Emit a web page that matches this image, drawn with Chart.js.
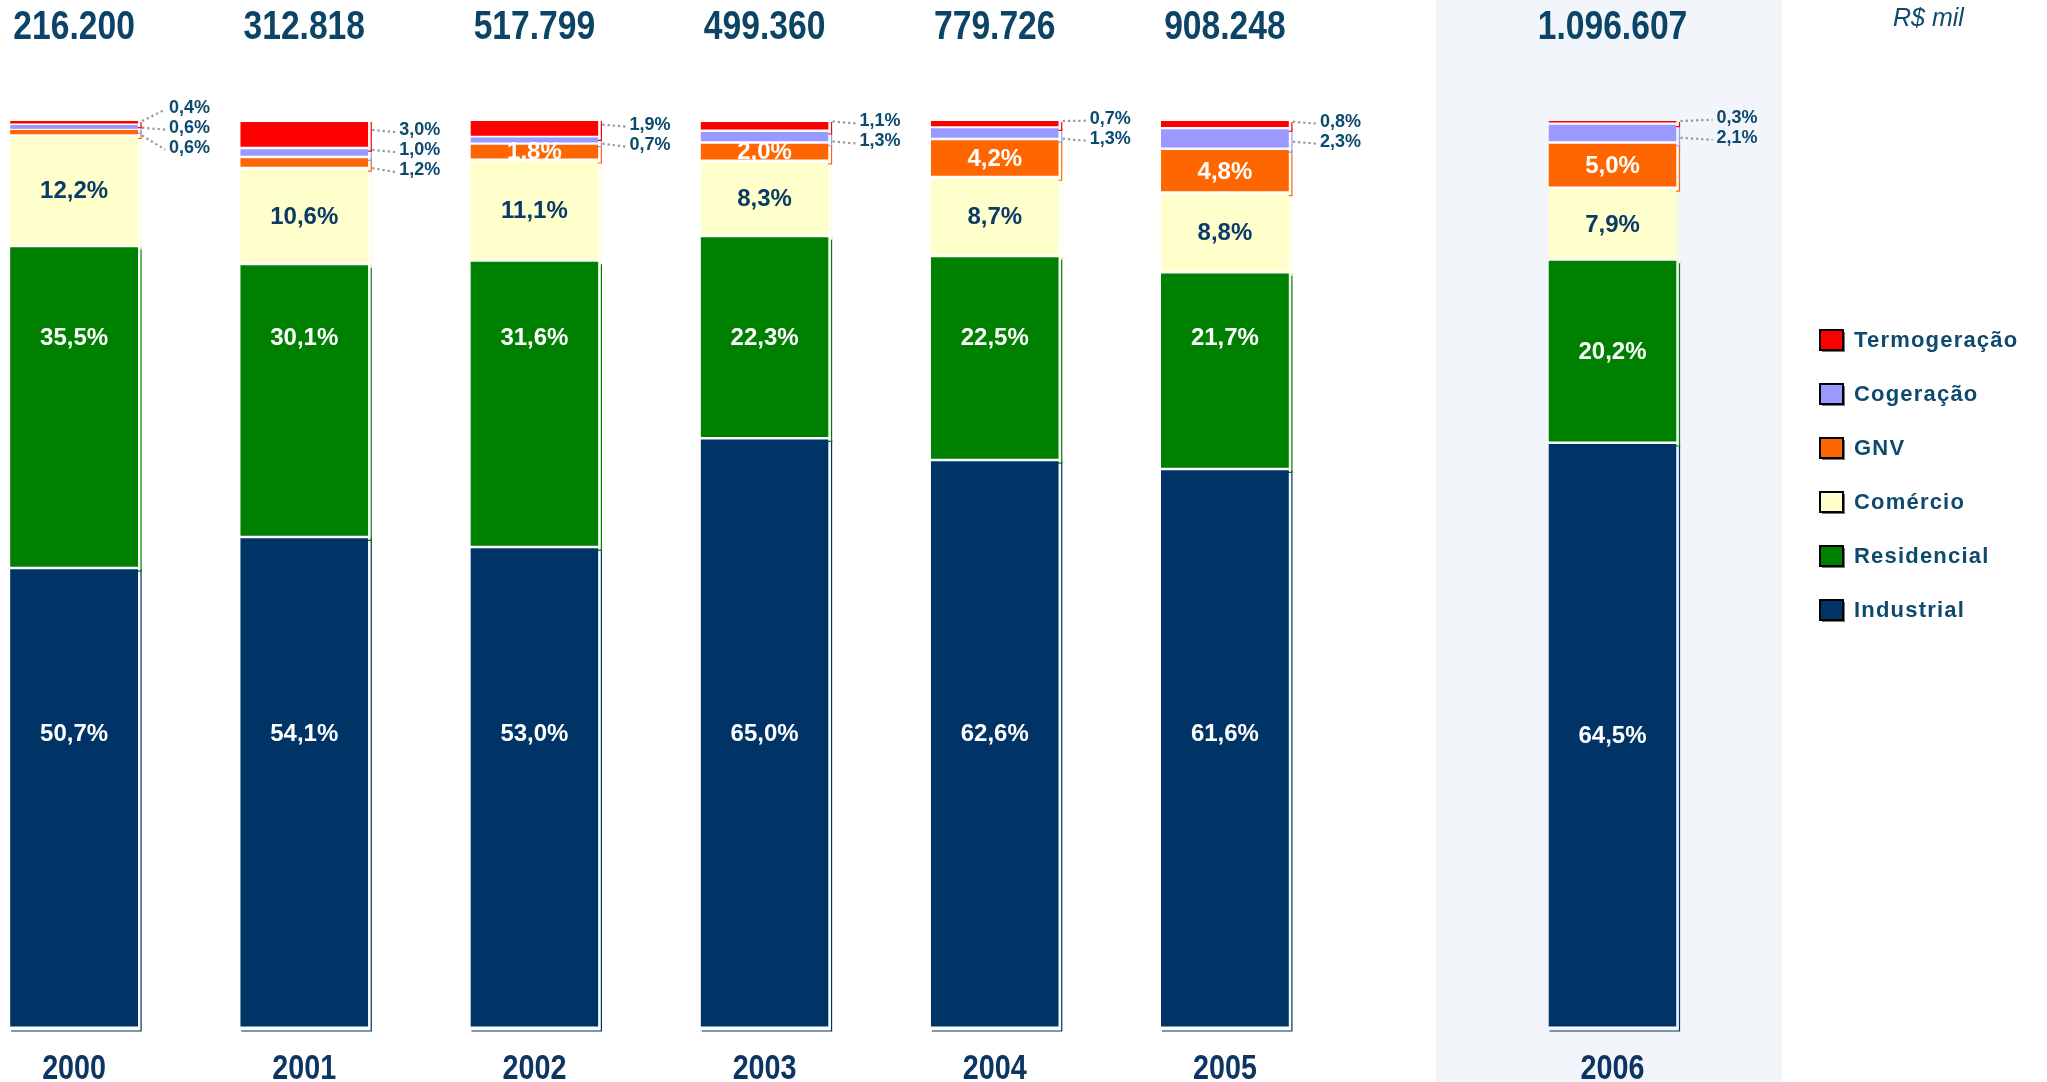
<!DOCTYPE html>
<html><head><meta charset="utf-8">
<script src="https://cdn.jsdelivr.net/npm/chart.js@4"></script>
<style>
html,body{margin:0;padding:0;background:#fff;width:2047px;height:1082px;overflow:hidden;position:relative}
#c1{position:absolute;left:-41px;top:0}
#c2{position:absolute;left:1436px;top:0}
#unit{position:absolute;left:1893px;top:3px;font:italic 25px "Liberation Sans",Arial,sans-serif;color:#0d4a6e;white-space:nowrap}
</style></head>
<body>
<canvas id="c1" width="1470" height="1082"></canvas>
<canvas id="c2" width="611" height="1082"></canvas>
<div id="unit">R$ mil</div>
<script>
// ---------- DATA ----------
const categories = ['2000','2001','2002','2003','2004','2005','2006'];
const totals = [216200, 312818, 517799, 499360, 779726, 908248, 1096607];
const seriesNames = ['Industrial','Residencial','Comércio','GNV','Cogeração','Termogeração'];
const industrial   = [50.7, 54.1, 53.0, 65.0, 62.6, 61.6, 64.5];
const residencial  = [35.5, 30.1, 31.6, 22.3, 22.5, 21.7, 20.2];
const comercio     = [12.2, 10.6, 11.1,  8.3,  8.7,  8.8,  7.9];
const gnv          = [ 0.6,  1.2,  1.8,  2.0,  4.2,  4.8,  5.0];
const cogeracao    = [ 0.6,  1.0,  0.7,  1.3,  1.3,  2.3,  2.1];
const termogeracao = [ 0.4,  3.0,  1.9,  1.1,  0.7,  0.8,  0.3];
const seriesValues = [industrial, residencial, comercio, gnv, cogeracao, termogeracao];

// ---------- STYLE ----------
const seriesColors = ['#003366','#008000','#ffffcc','#ff6600','#9999ff','#ff0000'];
const FONT = '"Liberation Sans", Arial, sans-serif';

function fmtTotal(n){ return String(n).replace(/\B(?=(\d{3})+(?!\d))/g, '.'); }
function fmtPct(v){ return v.toFixed(1).replace('.', ',') + '%'; }
function props(el){ return el.getProps(['x','y','base','width'], true); }

function narrowText(ctx, txt, x, y, size, color){
  ctx.save();
  ctx.font = 'bold ' + size + 'px ' + FONT;
  ctx.fillStyle = color; ctx.textAlign = 'center'; ctx.textBaseline = 'alphabetic';
  ctx.translate(x, y); ctx.scale(0.82, 1); ctx.fillText(txt, 0, 0);
  ctx.restore();
}

const decor = {
  id: 'decor',
  beforeDraw(chart, args, o){
    if (o.panel){
      const ctx = chart.ctx;
      ctx.save(); ctx.fillStyle = o.panel;
      ctx.fillRect(0, 0, o.panelWidth, chart.height);
      ctx.restore();
    }
  },
  beforeDatasetsDraw(chart){
    const ctx = chart.ctx;
    ctx.save(); ctx.lineWidth = 1.2;
    chart.data.datasets.forEach((ds, di) => {
      chart.getDatasetMeta(di).data.forEach(el => {
        const p = props(el);
        const l = p.x - p.width/2, r = p.x + p.width/2;
        const t = Math.min(p.y, p.base), b = Math.max(p.y, p.base);
        ctx.strokeStyle = ds.backgroundColor;
        ctx.beginPath(); ctx.moveTo(r + 3, t + 1); ctx.lineTo(r + 3, b + 3); ctx.lineTo(l + 1, b + 3); ctx.stroke();
      });
    });
    ctx.restore();
  },
  afterDatasetsDraw(chart, args, o){
    const ctx = chart.ctx;
    const dsets = chart.data.datasets;
    const n = chart.data.labels.length;
    const metas = dsets.map((d, di) => chart.getDatasetMeta(di).data.map(props));

    // inside labels
    ctx.save();
    ctx.textAlign = 'center'; ctx.textBaseline = 'middle';
    ctx.font = 'bold 24px ' + FONT;
    for (let di = 0; di <= 3; di++){
      for (let i = 0; i < n; i++){
        const v = dsets[di].data[i];
        if (v < 1.5) continue;
        let ref = metas[di][i];
        if (di <= 1 && o.alignIndex !== undefined && o.alignIndex !== null) ref = metas[di][o.alignIndex];
        const cy = (ref.y + ref.base) / 2;
        ctx.fillStyle = di === 2 ? '#0b3a66' : '#ffffff';
        ctx.fillText(fmtPct(v), metas[di][i].x, cy + 1);
      }
    }
    ctx.restore();

    // outside labels with dotted leaders
    for (let i = 0; i < n; i++){
      const list = [];
      for (let di = dsets.length - 1; di >= 0; di--){
        const v = dsets[di].data[i];
        if (di >= 4 || v < 1.5) list.push({ v, p: metas[di][i] });
      }
      if (!list.length) continue;
      const centers = list.map(s => (s.p.y + s.p.base) / 2);
      let pos = centers.slice();
      const GAP = 20;
      let crowded = false;
      for (let k = 1; k < pos.length; k++) if (pos[k] - pos[k-1] < GAP) crowded = true;
      if (crowded){
        const m = centers.reduce((a, b) => a + b, 0) / centers.length;
        pos = centers.map((c, k) => m + (k - (centers.length - 1) / 2) * GAP);
      }
      list.forEach((s, k) => {
        const right = s.p.x + s.p.width / 2;
        const lx = right + o.labelGap;
        const ly = pos[k];
        const t = Math.min(s.p.y, s.p.base), b = Math.max(s.p.y, s.p.base);
        const sy = Math.max(t, Math.min(b, ly));
        ctx.save();
        ctx.strokeStyle = '#969696'; ctx.lineWidth = 2.2; ctx.setLineDash([2.2, 3]);
        ctx.beginPath(); ctx.moveTo(right + 4, sy); ctx.lineTo(lx - 4, ly + 2); ctx.stroke();
        ctx.restore();
        ctx.save();
        ctx.font = 'bold 18px ' + FONT; ctx.fillStyle = '#0d4a6e';
        ctx.textAlign = 'left'; ctx.textBaseline = 'middle';
        ctx.fillText(fmtPct(s.v), lx, ly);
        ctx.restore();
      });
    }

    // totals and year labels
    const m0 = metas[0];
    for (let i = 0; i < n; i++){
      narrowText(ctx, fmtTotal(o.totals[i]), m0[i].x, 39, 41, '#0b4466');
      narrowText(ctx, chart.data.labels[i], m0[i].x, 1079, 35, '#0d3563');
    }

    // legend
    if (o.legend){
      const L = o.legend;
      ctx.save();
      let k = 0;
      for (let di = dsets.length - 1; di >= 0; di--, k++){
        const cy = L.top + k * L.step;
        ctx.fillStyle = '#777';
        ctx.fillRect(L.x + 2, cy - 8, 23, 20);
        ctx.fillStyle = dsets[di].backgroundColor;
        ctx.fillRect(L.x, cy - 10, 23, 20);
        ctx.strokeStyle = '#000'; ctx.lineWidth = 2;
        ctx.strokeRect(L.x, cy - 10, 23, 20);
        ctx.font = 'bold 22px ' + FONT;
        ctx.letterSpacing = '1.2px';
        ctx.fillStyle = '#0e4a6e'; ctx.textAlign = 'left'; ctx.textBaseline = 'middle';
        ctx.fillText(dsets[di].label, L.x + 34, cy + 1);
      }
      ctx.restore();
    }
  }
};

function makeChart(id, from, to, extra){
  const datasets = seriesNames.map((name, di) => ({
    label: name,
    data: seriesValues[di].slice(from, to),
    backgroundColor: seriesColors[di],
    borderColor: '#ffffff',
    borderWidth: (c) => {
      const v = c.raw;
      return v !== undefined && v < 1 ? { top: 0, bottom: 1.2, left: 0, right: 0 }
                                      : { top: 1, bottom: 1.5, left: 0, right: 0 };
    },
    borderSkipped: false,
    barPercentage: extra.barPct,
    categoryPercentage: 1
  }));
  return new Chart(document.getElementById(id), {
    type: 'bar',
    data: { labels: categories.slice(from, to), datasets },
    options: {
      responsive: false, animation: false, devicePixelRatio: 1,
      layout: { padding: extra.padding },
      scales: {
        x: { stacked: true, display: false },
        y: { stacked: true, display: false, min: 0, max: 100 }
      },
      plugins: {
        legend: { display: false }, tooltip: { enabled: false },
        decor: {
          totals: totals.slice(from, to),
          alignIndex: extra.alignIndex,
          labelGap: extra.labelGap,
          panel: extra.panel,
          panelWidth: extra.panelWidth,
          legend: extra.legend
        }
      }
    },
    plugins: [decor]
  });
}

makeChart('c1', 0, 6, {
  barPct: 0.556, padding: { top: 121, bottom: 54, left: 0, right: 89 },
  alignIndex: 3, labelGap: 31, panel: null, legend: null
});
makeChart('c2', 6, 7, {
  barPct: 0.37, padding: { top: 121, bottom: 54, left: 3.5, right: 261.5 },
  alignIndex: null, labelGap: 40, panel: '#f2f6fb', panelWidth: 346,
  legend: { x: 384, top: 340, step: 54 }
});
</script>
</body></html>
